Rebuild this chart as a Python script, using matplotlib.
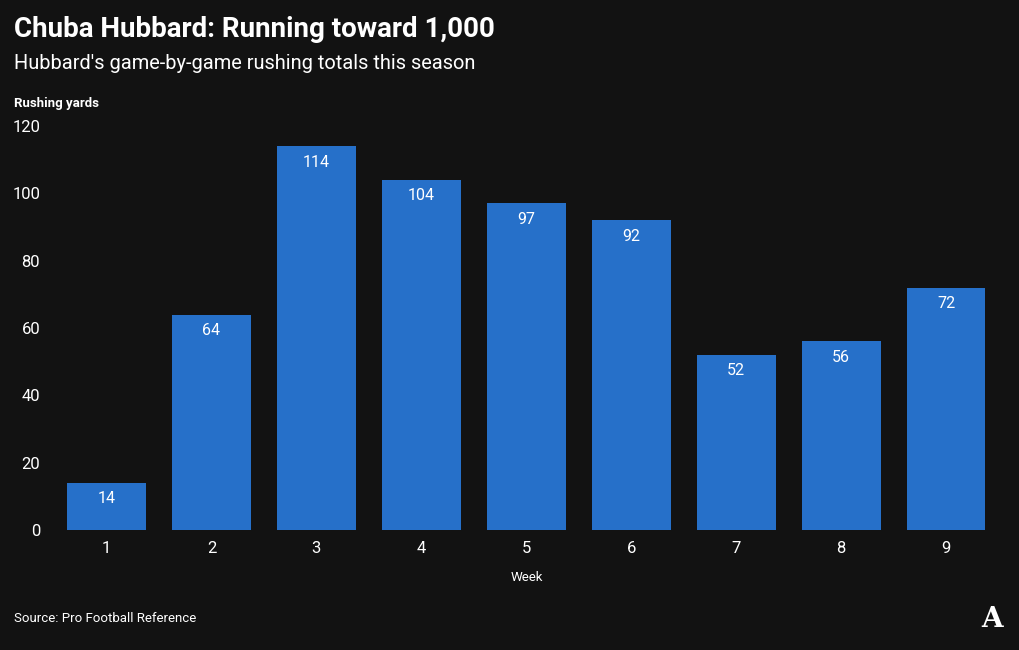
import matplotlib.pyplot as plt

weeks = ["1", "2", "3", "4", "5", "6", "7", "8", "9"]
yards = [14, 64, 114, 104, 97, 92, 52, 56, 72]

bg = "#121212"
bar_color = "#2670c9"

plt.rcParams["font.family"] = ["Roboto", "DejaVu Sans"]

fig = plt.figure(figsize=(10.2, 6.5), dpi=100, facecolor=bg)
ax = fig.add_axes([0.053, 0.1846, 0.926, 0.6215], facecolor=bg)

x = range(len(weeks))
bars = ax.bar(x, yards, width=0.75, color=bar_color)
for xi, v in zip(x, yards):
    ax.annotate(str(v), (xi, v), xytext=(0, -6), textcoords="offset points",
                ha="center", va="top", color="white", fontsize=11.5)

ax.set_xlim(-0.5, len(weeks) - 0.5)
ax.set_ylim(0, 120)
ax.set_yticks(range(0, 121, 20))
ax.set_xticks(list(x))
ax.set_xticklabels(weeks)
ax.tick_params(colors="white", labelsize=12, length=0)
ax.tick_params(axis="y", pad=10)
ax.tick_params(axis="x", pad=8)
for s in ax.spines.values():
    s.set_visible(False)
ax.set_xlabel("Week", color="white", fontsize=9.5, labelpad=11)

fig.text(0.014, 0.955, "Chuba Hubbard: Running toward 1,000", color="white",
         fontsize=20, fontweight="bold", va="center")
fig.text(0.014, 0.903, "Hubbard's game-by-game rushing totals this season",
         color="white", fontsize=14.4, va="center")
fig.text(0.014, 0.84, "Rushing yards", color="white", fontsize=9.5,
         fontweight="bold", va="center")
fig.text(0.014, 0.049, "Source: Pro Football Reference", color="white",
         fontsize=9.5, va="center")
fig.text(0.973, 0.047, "A", color="white", fontsize=20, fontweight="bold",
         family="DejaVu Serif", ha="center", va="center")

fig.savefig("out.png", dpi=100, facecolor=bg)
